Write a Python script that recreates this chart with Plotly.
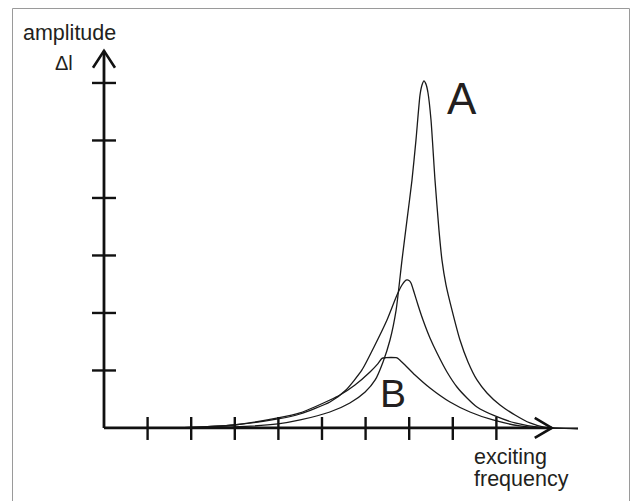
import plotly.graph_objects as go

# ---- data (x in tick units, y in tick units) ----
a_x = [1.055, 1.972, 2.98, 3.99, 4.50, 5.18, 5.64, 5.99, 6.22, 6.40, 6.56, 6.70, 6.835, 6.95,
       7.064, 7.156, 7.248, 7.294, 7.339, 7.385, 7.431, 7.50, 7.592, 7.683, 7.752, 7.844,
       7.982, 8.165, 8.349, 8.555, 8.784, 9.083, 9.427, 9.771, 10.115, 10.872]
a_y = [0.0, 0.005, 0.017, 0.07, 0.139, 0.278, 0.435, 0.626, 0.835, 1.148, 1.53, 2.05, 2.92, 3.62,
       4.31, 5.01, 5.79, 5.965, 6.035, 5.98, 5.83, 5.36, 4.31, 3.44, 2.92, 2.49,
       2.05, 1.53, 1.148, 0.835, 0.609, 0.40, 0.226, 0.087, 0.009, -0.009]

m_x = [1.055, 1.972, 2.982, 3.991, 4.495, 5.183, 5.55, 5.917, 6.193, 6.491, 6.72, 6.835, 6.904,
       6.95, 6.995, 7.041, 7.11, 7.202, 7.317, 7.477, 7.638, 7.867, 8.096, 8.326, 8.555,
       8.968, 9.427, 10.0, 10.872]
m_y = [0.0, 0.009, 0.052, 0.157, 0.243, 0.452, 0.661, 1.009, 1.409, 1.878, 2.313, 2.487, 2.557,
       2.574, 2.565, 2.522, 2.365, 2.139, 1.878, 1.565, 1.304, 0.974, 0.713, 0.522, 0.365,
       0.209, 0.087, 0.009, -0.009]

b_x = [1.055, 1.972, 2.982, 3.991, 4.495, 5.183, 5.413, 5.757, 6.101, 6.284, 6.376, 6.47,
       6.583, 6.697, 6.74, 6.80, 6.904, 7.133, 7.477, 7.936, 8.394, 8.922, 9.541, 10.0, 10.872]
b_y = [0.0, 0.009, 0.052, 0.174, 0.261, 0.487, 0.574, 0.748, 0.974, 1.12, 1.21, 1.222,
       1.226, 1.222, 1.21, 1.17, 1.096, 0.922, 0.696, 0.452, 0.278, 0.139, 0.035, 0.0, -0.009]

x_ticks = [1, 2, 3, 4, 5, 6, 7, 8, 9]
y_ticks = [1, 2, 3, 4, 5, 6]
x_axis_end = 10.27
y_axis_end = 6.56

W, H = 638, 501
X_RANGE = [-2.385, 12.248]
Y_RANGE = [-1.270, 7.443]
px_x = (X_RANGE[1] - X_RANGE[0]) / W   # data units per pixel (x)
px_y = (Y_RANGE[1] - Y_RANGE[0]) / H   # data units per pixel (y)

INK = "#111111"
TXT = "#231f20"
FONT = "Liberation Sans, Arial, Helvetica, sans-serif"

fig = go.Figure()
for xs, ys in [(a_x, a_y), (m_x, m_y), (b_x, b_y)]:
    fig.add_trace(go.Scatter(x=xs, y=ys, mode="lines",
                             line=dict(color="#1a1a1a", width=1.3, shape="spline", smoothing=0.6),
                             hoverinfo="skip", showlegend=False))

shapes = []
# axes
shapes.append(dict(type="line", xref="x", yref="y", x0=0, y0=0, x1=x_axis_end, y1=0,
                   line=dict(color=INK, width=2.8)))
shapes.append(dict(type="line", xref="x", yref="y", x0=0, y0=0, x1=0, y1=y_axis_end,
                   line=dict(color=INK, width=2.8)))
# arrowheads (open chevrons)
ax, ay = 17 * px_x, 10 * px_y
shapes.append(dict(type="path", xref="x", yref="y",
                   path=f"M {x_axis_end-ax},{ay} L {x_axis_end},0 L {x_axis_end-ax},{-ay}",
                   line=dict(color=INK, width=2.6)))
bx, by = 11 * px_x, 17 * px_y
shapes.append(dict(type="path", xref="x", yref="y",
                   path=f"M {-bx},{y_axis_end-by} L 0,{y_axis_end} L {bx},{y_axis_end-by}",
                   line=dict(color=INK, width=2.6)))
# ticks
for t in x_ticks:
    shapes.append(dict(type="line", xref="x", yref="y", x0=t, x1=t, y0=-12 * px_y, y1=11 * px_y,
                       line=dict(color=INK, width=2.4)))
for t in y_ticks:
    shapes.append(dict(type="line", xref="x", yref="y", x0=-12 * px_x, x1=12 * px_x, y0=t, y1=t,
                       line=dict(color=INK, width=2.4)))
# picture frame
shapes.append(dict(type="rect", xref="paper", yref="paper",
                   x0=12.5 / W, x1=629.5 / W, y0=-0.05, y1=1 - 8.5 / H,
                   line=dict(color="#9a9a9a", width=1), fillcolor="rgba(0,0,0,0)"))


def ann(text, px, py, size, xanchor="center"):
    return dict(text=text, xref="paper", yref="paper", x=px / W, y=1 - py / H,
                xanchor=xanchor, yanchor="middle", showarrow=False,
                font=dict(family=FONT, size=size, color=TXT))


annotations = [
    ann("amplitude", 21, 33, 21.5, "left"),
    ann("Δl", 64, 63, 20),
    ann("A", 462, 98, 44),
    ann("B", 392.5, 393, 39),
    ann("exciting", 472, 457, 21.5, "left"),
    ann("frequency", 472, 479, 21.5, "left"),
]

fig.update_layout(
    width=W, height=H, margin=dict(l=0, r=0, t=0, b=0),
    paper_bgcolor="white", plot_bgcolor="white",
    xaxis=dict(range=X_RANGE, visible=False, fixedrange=True),
    yaxis=dict(range=Y_RANGE, visible=False, fixedrange=True),
    shapes=shapes, annotations=annotations, showlegend=False,
)
fig.write_html("out.html", config={"displayModeBar": False},
               post_script="document.body.style.margin='0';document.body.style.overflow='hidden';")
